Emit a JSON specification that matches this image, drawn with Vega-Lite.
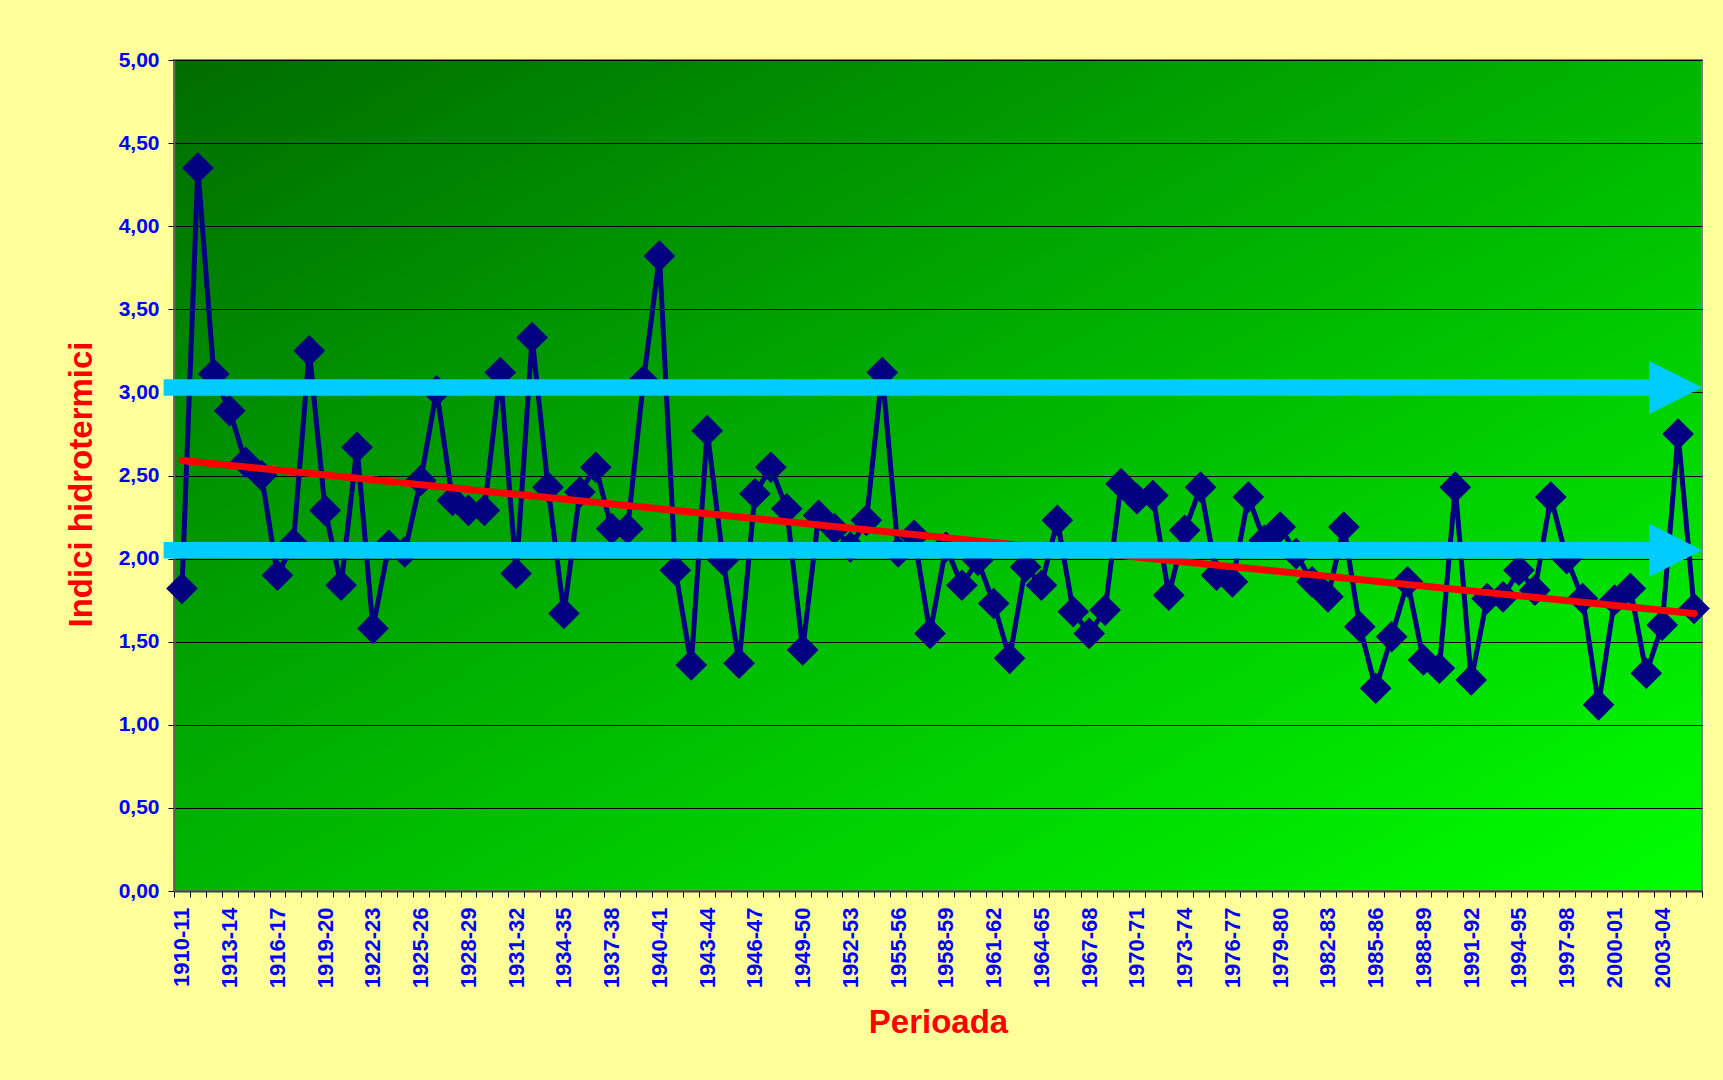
{
  "$schema": "https://vega.github.io/schema/vega-lite/v6.json",
  "width": 1528,
  "height": 831,
  "autosize": {"type": "none"},
  "padding": {"left": 174, "top": 60, "right": 21, "bottom": 189},
  "background": "#FFFF99",
  "config": {
    "font": "Liberation Sans",
    "view": {
      "fill": {"gradient": "linear", "x1": 0, "y1": 0, "x2": 1, "y2": 1, "stops": [{"offset": 0, "color": "#006C00"}, {"offset": 1, "color": "#00FF00"}]},
      "stroke": "#808080",
      "strokeWidth": 2
    }
  },
  "datasets": {
    "main": [
      {"period": "1910-11", "value": 1.82}, {"period": "1911-12", "value": 4.35}, {"period": "1912-13", "value": 3.11}, {"period": "1913-14", "value": 2.89},
      {"period": "1914-15", "value": 2.58}, {"period": "1915-16", "value": 2.50}, {"period": "1916-17", "value": 1.90}, {"period": "1917-18", "value": 2.09},
      {"period": "1918-19", "value": 3.25}, {"period": "1919-20", "value": 2.29}, {"period": "1920-21", "value": 1.84}, {"period": "1921-22", "value": 2.67},
      {"period": "1922-23", "value": 1.58}, {"period": "1923-24", "value": 2.08}, {"period": "1924-25", "value": 2.04}, {"period": "1925-26", "value": 2.47},
      {"period": "1926-27", "value": 3.01}, {"period": "1927-28", "value": 2.35}, {"period": "1928-29", "value": 2.29}, {"period": "1929-30", "value": 2.29},
      {"period": "1930-31", "value": 3.12}, {"period": "1931-32", "value": 1.91}, {"period": "1932-33", "value": 3.33}, {"period": "1933-34", "value": 2.43},
      {"period": "1934-35", "value": 1.67}, {"period": "1935-36", "value": 2.40}, {"period": "1936-37", "value": 2.55}, {"period": "1937-38", "value": 2.18},
      {"period": "1938-39", "value": 2.18}, {"period": "1939-40", "value": 3.07}, {"period": "1940-41", "value": 3.82}, {"period": "1941-42", "value": 1.93},
      {"period": "1942-43", "value": 1.36}, {"period": "1943-44", "value": 2.77}, {"period": "1944-45", "value": 1.99}, {"period": "1945-46", "value": 1.37},
      {"period": "1946-47", "value": 2.39}, {"period": "1947-48", "value": 2.55}, {"period": "1948-49", "value": 2.30}, {"period": "1949-50", "value": 1.45},
      {"period": "1950-51", "value": 2.26}, {"period": "1951-52", "value": 2.18}, {"period": "1952-53", "value": 2.07}, {"period": "1953-54", "value": 2.23},
      {"period": "1954-55", "value": 3.12}, {"period": "1955-56", "value": 2.04}, {"period": "1956-57", "value": 2.14}, {"period": "1957-58", "value": 1.55},
      {"period": "1958-59", "value": 2.07}, {"period": "1959-60", "value": 1.84}, {"period": "1960-61", "value": 1.99}, {"period": "1961-62", "value": 1.73},
      {"period": "1962-63", "value": 1.40}, {"period": "1963-64", "value": 1.95}, {"period": "1964-65", "value": 1.84}, {"period": "1965-66", "value": 2.23},
      {"period": "1966-67", "value": 1.68}, {"period": "1967-68", "value": 1.55}, {"period": "1968-69", "value": 1.69}, {"period": "1969-70", "value": 2.45},
      {"period": "1970-71", "value": 2.36}, {"period": "1971-72", "value": 2.38}, {"period": "1972-73", "value": 1.78}, {"period": "1973-74", "value": 2.17},
      {"period": "1974-75", "value": 2.43}, {"period": "1975-76", "value": 1.90}, {"period": "1976-77", "value": 1.86}, {"period": "1977-78", "value": 2.37},
      {"period": "1978-79", "value": 2.11}, {"period": "1979-80", "value": 2.19}, {"period": "1980-81", "value": 2.03}, {"period": "1981-82", "value": 1.86},
      {"period": "1982-83", "value": 1.77}, {"period": "1983-84", "value": 2.19}, {"period": "1984-85", "value": 1.59}, {"period": "1985-86", "value": 1.22},
      {"period": "1986-87", "value": 1.53}, {"period": "1987-88", "value": 1.86}, {"period": "1988-89", "value": 1.39}, {"period": "1989-90", "value": 1.34},
      {"period": "1990-91", "value": 2.43}, {"period": "1991-92", "value": 1.27}, {"period": "1992-93", "value": 1.76}, {"period": "1993-94", "value": 1.77},
      {"period": "1994-95", "value": 1.93}, {"period": "1995-96", "value": 1.81}, {"period": "1996-97", "value": 2.37}, {"period": "1997-98", "value": 2.00},
      {"period": "1998-99", "value": 1.76}, {"period": "1999-00", "value": 1.12}, {"period": "2000-01", "value": 1.75}, {"period": "2001-02", "value": 1.82},
      {"period": "2002-03", "value": 1.31}, {"period": "2003-04", "value": 1.60}, {"period": "2004-05", "value": 2.75}, {"period": "2005-06", "value": 1.70}
    ],
    "trend": [
      {"period": "1910-11", "value": 2.59},
      {"period": "2005-06", "value": 1.67}
    ],
    "arrows": [
      {"start": -0.65, "end": 93.4, "head": 94.35, "value": 3.03},
      {"start": -0.65, "end": 93.4, "head": 94.35, "value": 2.05}
    ]
  },
  "layer": [
    {
      "layer": [
        {
          "data": {"name": "main"},
          "mark": {"type": "line", "color": "#000080", "strokeWidth": 5},
          "encoding": {
            "x": {
              "field": "period", "type": "ordinal", "bandPosition": 0.5,
              "scale": {"type": "band", "paddingInner": 0, "paddingOuter": 0},
              "axis": {
                "title": "Perioada",
                "titleFont": "Liberation Sans", "titleFontSize": 33, "titleFontWeight": "bold", "titleColor": "#FF0000",
                "titleX": 764, "titleY": 141, "titleBaseline": "alphabetic", "titleAlign": "center",
                "labelAngle": -90, "labelFont": "Liberation Sans", "labelFontSize": 22, "labelFontWeight": "bold", "labelColor": "#0000FF",
                "labelPadding": 10, "labelOverlap": false,
                "labelExpr": "(toNumber(substring(datum.label,0,4)) - 1910) % 3 == 0 ? datum.label : ''",
                "tickBand": "extent", "tickSize": 6, "tickColor": "#000000", "tickWidth": 1,
                "domainColor": "#404040", "domainWidth": 2, "grid": false
              }
            },
            "y": {
              "field": "value", "type": "quantitative",
              "scale": {"domain": [0, 5], "nice": false},
              "axis": {
                "values": [0, 0.5, 1, 1.5, 2, 2.5, 3, 3.5, 4, 4.5, 5],
                "labelExpr": "replace(format(datum.value, '.2f'), '.', ',')",
                "labelFont": "Liberation Sans", "labelFontSize": 21, "labelFontWeight": "bold", "labelColor": "#0000FF",
                "labelPadding": 9, "labelFlush": false,
                "tickSize": 6, "tickColor": "#000000", "tickWidth": 1,
                "grid": true, "gridColor": "#000000", "gridWidth": 1,
                "domainColor": "#606060", "domainWidth": 2,
                "title": "Indici hidrotermici",
                "titleFont": "Liberation Sans", "titleFontSize": 33, "titleFontWeight": "bold", "titleColor": "#FF0000",
                "titleAngle": -90, "titleX": -83, "titleY": 424, "titleBaseline": "alphabetic", "titleAlign": "center"
              }
            }
          }
        },
        {
          "data": {"name": "main"},
          "mark": {"type": "point", "shape": "diamond", "filled": true, "color": "#000080", "size": 1000, "opacity": 1},
          "encoding": {
            "x": {"field": "period", "type": "ordinal", "bandPosition": 0.5},
            "y": {"field": "value", "type": "quantitative"}
          }
        },
        {
          "data": {"name": "trend"},
          "mark": {"type": "line", "color": "#FF0000", "strokeWidth": 7, "strokeCap": "round"},
          "encoding": {
            "x": {"field": "period", "type": "ordinal", "bandPosition": 0.5},
            "y": {"field": "value", "type": "quantitative"}
          }
        }
      ]
    },
    {
      "data": {"name": "arrows"},
      "layer": [
        {
          "mark": {"type": "rule", "color": "#00CCFF", "strokeWidth": 16.5, "strokeCap": "butt"},
          "encoding": {
            "x": {"field": "start", "type": "quantitative", "scale": {"domain": [0, 96], "nice": false, "zero": false}, "axis": null},
            "x2": {"field": "end"},
            "y": {"field": "value", "type": "quantitative"}
          }
        },
        {
          "mark": {"type": "point", "shape": "M-1,-1L1,0L-1,1Z", "filled": true, "color": "#00CCFF", "size": 2809, "opacity": 1, "strokeWidth": 0},
          "encoding": {
            "x": {"field": "head", "type": "quantitative", "scale": {"domain": [0, 96], "nice": false, "zero": false}, "axis": null},
            "y": {"field": "value", "type": "quantitative"}
          }
        }
      ]
    }
  ],
  "resolve": {"scale": {"x": "independent"}}
}
